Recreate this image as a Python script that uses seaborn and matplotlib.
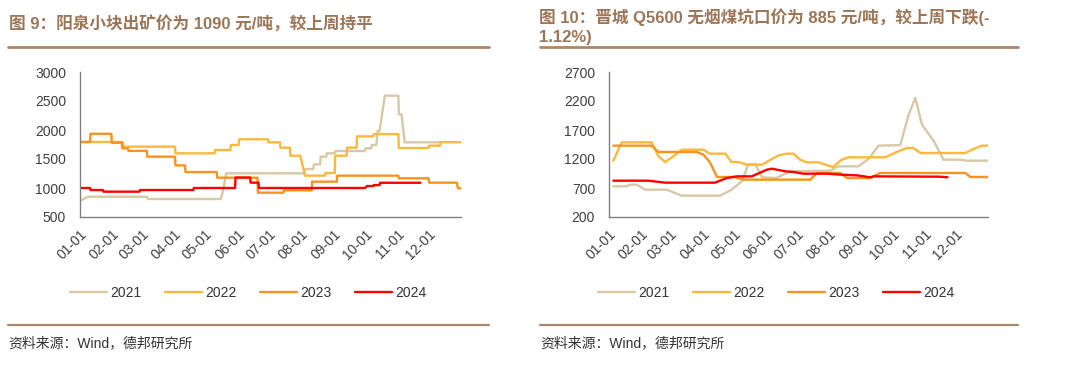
import numpy as np
import pandas as pd
import matplotlib
matplotlib.use("Agg")
import matplotlib.pyplot as plt
import seaborn as sns
from matplotlib.lines import Line2D

sns.set_theme(style="white")
plt.rcParams['font.family'] = ['Liberation Sans', 'Noto Sans CJK SC', 'DejaVu Sans']

# ---------------- data ----------------
years = ["2021", "2022", "2023", "2024"]
colors = ["#D8C8A6", "#F9B93C", "#F7931E", "#FF0000"]

month_ticks = [0, 31, 59, 90, 120, 151, 181, 212, 243, 273, 304, 334, 365]
month_labels = ["01-01", "02-01", "03-01", "04-01", "05-01", "06-01", "07-01",
                "08-01", "09-01", "10-01", "11-01", "12-01", ""]

# Left chart: 阳泉小块出矿价 (day of year, price)
yq_2021_day = [0, 8, 64, 65, 135, 137.5, 140, 215, 215.5, 223.5, 224, 230, 230.5, 236, 236.5, 244, 244.5,
               273, 273.5, 279, 279.5, 284, 285, 287, 292, 305, 305.5, 308, 311, 345]
yq_2021_val = [782, 850, 850, 810, 810, 1000, 1253, 1253, 1327, 1327, 1408, 1408, 1540, 1540, 1598, 1598, 1638,
               1638, 1684, 1684, 1741, 1741, 1983, 1983, 2592, 2592, 2270, 2270, 1787, 1787]
yq_2022_day = [0, 41, 41.5, 91, 91.5, 129, 129.5, 144, 144.5, 152, 152.5, 180, 180.5, 191.6, 192, 201, 201.5,
               211, 215.5, 234.7, 235, 244, 244.5, 255.4, 255.8, 265, 265.4, 281, 281.4, 305, 305.4, 334,
               334.4, 345, 345.4, 365]
yq_2022_val = [1793, 1793, 1713, 1713, 1598, 1598, 1655, 1655, 1741, 1741, 1840, 1840, 1787, 1787, 1695, 1695,
               1557, 1557, 1213, 1213, 1258, 1258, 1557, 1557, 1695, 1695, 1890, 1890, 1930, 1930, 1690, 1690,
               1730, 1730, 1790, 1790]
yq_2023_day = [0, 9.6, 10, 30, 30.4, 40, 40.4, 46, 46.4, 64, 64.4, 91, 91.4, 100.6, 101, 131, 131.4, 170,
               170.4, 195, 195.4, 222, 222.4, 246, 246.4, 305, 305.4, 334, 334.4, 361, 362, 365]
yq_2023_val = [1793, 1793, 1935, 1935, 1780, 1780, 1684, 1684, 1640, 1640, 1540, 1540, 1390, 1390, 1275, 1275,
               1178, 1178, 919, 919, 960, 960, 1109, 1109, 1213, 1213, 1167, 1167, 1092, 1092, 994, 994]
yq_2024_day = [0, 9.6, 10, 22, 22.4, 57, 57.4, 108.6, 109, 148.5, 149, 163, 163.4, 171, 171.4, 273, 275,
               281, 281.4, 287, 287.4, 326]
yq_2024_val = [1000, 1000, 965, 965, 937, 937, 965, 965, 1000, 1000, 1180, 1180, 1092, 1092, 1000, 1000, 1034,
               1034, 1050, 1050, 1090, 1090]

# Right chart: 晋城 Q5600 无烟煤坑口价 (day of year, price)
jc_2021_day = [4.2, 17, 20, 26.7, 34.7, 55.6, 70, 107, 118, 128, 134, 140.7, 147.4, 161, 174.5, 213, 221,
               240, 250, 259.6, 280.5, 288.6, 295, 301.4, 313, 322, 337, 345, 365]
jc_2021_val = [729, 729, 757, 757, 671, 671, 568, 568, 671, 815, 1102, 1114, 884, 872, 987, 1000, 1073,
               1073, 1200, 1430, 1440, 1964, 2252, 1792, 1505, 1188, 1188, 1171, 1171]
jc_2022_day = [4.2, 12.2, 41, 47.6, 54, 62, 70, 91, 97, 112, 118, 124.7, 132.7, 147.4, 155.6, 163.5, 171,
               177.7, 184, 190.5, 202, 211.4, 216, 224, 230.7, 266, 277, 287, 293, 300, 343, 351, 359, 365]
jc_2022_val = [1171, 1487, 1487, 1246, 1148, 1246, 1360, 1360, 1292, 1292, 1148, 1148, 1102, 1102, 1188, 1263,
               1292, 1292, 1188, 1142, 1142, 1085, 1062, 1188, 1229, 1229, 1320, 1390, 1390, 1303, 1303, 1372,
               1430, 1430]
jc_2023_day = [4.2, 41, 47.6, 84.5, 91, 97, 104, 120, 129.5, 194, 200, 222.7, 229, 251.6, 261, 343, 348, 365]
jc_2023_val = [1430, 1430, 1321, 1321, 1275, 1148, 890, 890, 844, 844, 959, 959, 872, 872, 959, 959, 890, 890]
jc_2024_day = [4.2, 38, 54, 102, 113.4, 123, 137.5, 152, 157, 170, 177.7, 187, 210, 222.7, 238.8, 251.6,
               254.8, 318, 326]
jc_2024_val = [826, 826, 792, 792, 872, 901, 901, 1016, 1033, 987, 976, 947, 947, 930, 918, 884, 901, 895, 885]


def frame(series):
    rows = []
    for yr, (d, v) in zip(years, series):
        for i, (a, b) in enumerate(zip(d, v)):
            rows.append({"year": yr, "day": a, "value": b, "order": i})
    return pd.DataFrame(rows)


left_df = frame([(yq_2021_day, yq_2021_val), (yq_2022_day, yq_2022_val),
                 (yq_2023_day, yq_2023_val), (yq_2024_day, yq_2024_val)])
right_df = frame([(jc_2021_day, jc_2021_val), (jc_2022_day, jc_2022_val),
                  (jc_2023_day, jc_2023_val), (jc_2024_day, jc_2024_val)])

palette = dict(zip(years, colors))

W, H = 1080, 366
fig = plt.figure(figsize=(W / 100, H / 100), dpi=100)

title_color = "#9C7656"
rule_color = "#A8876A"
text_color = "#333333"
axis_color = "#808080"


def fx(px):
    return px / W


def fy(py):
    return 1 - py / H


def make_panel(df, x0, x1, ylim, yticks, legend_cx):
    ax = fig.add_axes([fx(x0), fy(217), fx(x1 - x0), (217 - 72) / H])
    sns.lineplot(data=df, x="day", y="value", hue="year", hue_order=years, palette=palette,
                 sort=False, estimator=None, units="year", linewidth=1.7, ax=ax, legend=False)
    ax.set_xlim(0, 365)
    ax.set_ylim(*ylim)
    ax.set_yticks(yticks)
    ax.set_xticks(month_ticks)
    ax.set_xticklabels(month_labels, rotation=45, ha="right", rotation_mode="anchor")
    ax.set_xlabel("")
    ax.set_ylabel("")
    for s in ["top", "right"]:
        ax.spines[s].set_visible(False)
    for s in ["left", "bottom"]:
        ax.spines[s].set_color(axis_color)
        ax.spines[s].set_linewidth(1.0)
    ax.tick_params(axis="both", which="major", length=4, width=1.0, color=axis_color,
                   labelsize=10, labelcolor="#404040", direction="out")
    ax.tick_params(axis="x", pad=3)
    ax.tick_params(axis="y", pad=6)
    ax.grid(False)
    ax.set_facecolor("white")
    handles = [Line2D([0], [0], color=c, lw=1.7) for c in colors]
    fig.legend(handles, years, loc="center", bbox_to_anchor=(fx(legend_cx), fy(293)), ncol=4,
               frameon=False, fontsize=10, handlelength=2.7, handletextpad=0.2, columnspacing=1.7,
               labelcolor="#333333")
    return ax


make_panel(left_df, 80, 461, (500, 3000), [500, 1000, 1500, 2000, 2500, 3000], 248)
make_panel(right_df, 609, 988, (200, 2700), [200, 700, 1200, 1700, 2200, 2700], 776)

# titles
fig.text(fx(9), fy(24), "图 9：阳泉小块出矿价为 1090 元/吨，较上周持平", fontsize=12, fontweight="bold",
         color=title_color, ha="left", va="center")
fig.text(fx(539), fy(27), "图 10：晋城 Q5600 无烟煤坑口价为 885 元/吨，较上周下跌(-\n1.12%)",
         fontsize=12, fontweight="bold", color=title_color, ha="left", va="center", linespacing=1.35)

# rules
for (a, b) in [(8, 489), (540, 1018)]:
    fig.add_artist(Line2D([fx(a), fx(b)], [fy(46.5), fy(46.5)], color=rule_color, lw=2.0))
    fig.add_artist(Line2D([fx(a), fx(b)], [fy(325), fy(325)], color=rule_color, lw=1.6))

# sources
fig.text(fx(8), fy(343), "资料来源：Wind，德邦研究所", fontsize=10, color=text_color, ha="left", va="center")
fig.text(fx(540), fy(343), "资料来源：Wind，德邦研究所", fontsize=10, color=text_color, ha="left", va="center")

fig.savefig("out.png", dpi=100, facecolor="white")
